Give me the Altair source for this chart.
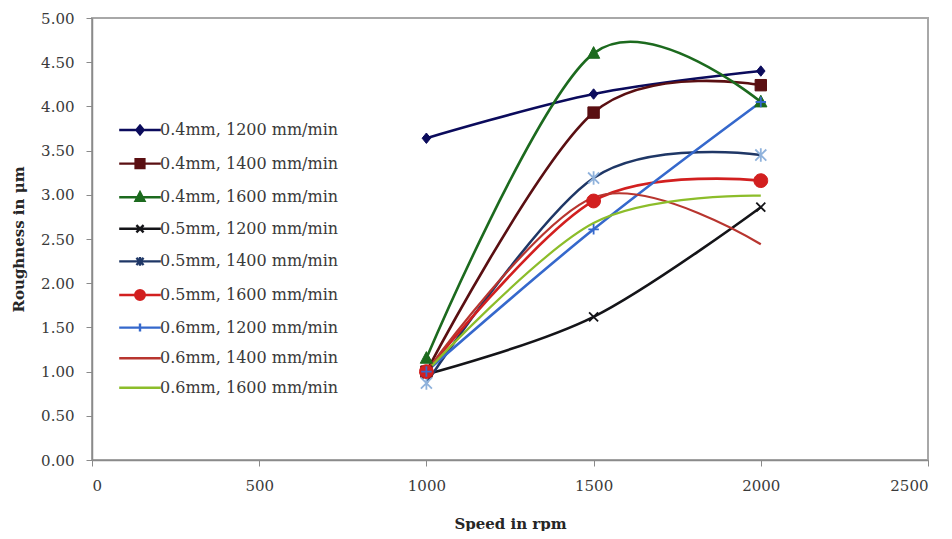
import altair as alt
import pandas as pd

speeds = [1000, 1500, 2000]
names = [
    "0.4mm, 1200 mm/min",
    "0.4mm, 1400 mm/min",
    "0.4mm, 1600 mm/min",
    "0.5mm, 1200 mm/min",
    "0.5mm, 1400 mm/min",
    "0.5mm, 1600 mm/min",
    "0.6mm, 1200 mm/min",
    "0.6mm, 1400 mm/min",
    "0.6mm, 1600 mm/min",
]
s1 = [3.64, 4.14, 4.40]
s2 = [1.00, 3.93, 4.24]
s3 = [1.15, 4.60, 4.05]
s4 = [0.97, 1.62, 2.86]
s5 = [0.87, 3.19, 3.45]
s6 = [1.00, 2.93, 3.16]
s7 = [1.00, 2.61, 4.05]
s8 = [1.00, 2.97, 2.44]
s9 = [1.00, 2.68, 2.99]
series_values = [s1, s2, s3, s4, s5, s6, s7, s8, s9]

line_colors = ["#0b0b5c", "#5a0f12", "#1c6a1e", "#141418", "#1f3766",
               "#d21f1f", "#3568cc", "#b8352f", "#8cbd2a"]
marker_colors = ["#0b0b5c", "#5a0f12", "#1c6a1e", "#141418", "#8fb2dc",
                 "#d21f1f", "#3568cc", "#b8352f", "#8cbd2a"]

rows = []
for name, vals in zip(names, series_values):
    for sp, v in zip(speeds, vals):
        rows.append({"series": name, "speed": sp, "value": v})
df = pd.DataFrame(rows)

# marker shapes (unit paths) for the plot
DIAMOND = "M0,-1.1L0.9,0L0,1.1L-0.9,0Z"
SQUARE = "M-1,-1H1V1H-1Z"
TRIANGLE = "M0,-1.1L1,0.8L-1,0.8Z"
XSHAPE = "M-0.9,-0.9L0.9,0.9M-0.9,0.9L0.9,-0.9"
ASTER = "M-0.9,-0.9L0.9,0.9M-0.9,0.9L0.9,-0.9M0,-1.1V1.1"
CIRCLE = "M-1,0A1,1,0,1,1,1,0A1,1,0,1,1,-1,0Z"
PLUS = "M-1,0H1M0,-1V1"

markers = [
    (DIAMOND, 90, True),
    (SQUARE, 130, True),
    (TRIANGLE, 150, True),
    (XSHAPE, 100, False),
    (ASTER, 150, False),
    (CIRCLE, 190, True),
    (PLUS, 110, False),
    (None, 0, False),
    (None, 0, False),
]

LINE = "M-5.2,0L5.2,0"
legend_paths = [
    LINE + "M0,-1.1L0.9,0L0,1.1L-0.9,0Z",
    LINE + "M-1.1,-1.1H1.1V1.1H-1.1Z",
    LINE + "M0,-1.2L1.1,0.9L-1.1,0.9Z",
    LINE + "M-0.9,-0.9L0.9,0.9M-0.9,0.9L0.9,-0.9",
    LINE + "M-0.9,-0.9L0.9,0.9M-0.9,0.9L0.9,-0.9M0,-1.1V1.1",
    LINE + "M-1.2,0A1.2,1.2,0,1,1,1.2,0A1.2,1.2,0,1,1,-1.2,0Z",
    LINE + "M-1,0H1M0,-1V1",
    LINE,
    LINE,
]

FONT = "DejaVu Serif"

x_enc = alt.X(
    "speed:Q",
    scale=alt.Scale(domain=[0, 2500], nice=False, zero=False),
    axis=alt.Axis(
        values=[0, 500, 1000, 1500, 2000, 2500],
        format="d",
        title="Speed in rpm",
        labelFont=FONT, labelFontSize=15, labelColor="#3a3a3a",
        labelPadding=12, tickSize=6, tickColor="#8a8a8a",
        domainColor="#8a8a8a", domainWidth=1.5,
        titleFont=FONT, titleFontSize=15, titleFontWeight="bold", titleColor="#262626",
        titleBaseline="alphabetic", titleY=68,
        grid=False,
    ),
)
y_enc = alt.Y(
    "value:Q",
    scale=alt.Scale(domain=[0, 5], nice=False),
    axis=alt.Axis(
        values=[0, 0.5, 1, 1.5, 2, 2.5, 3, 3.5, 4, 4.5, 5],
        format=".2f",
        title="Roughness in μm",
        labelFont=FONT, labelFontSize=15, labelColor="#3a3a3a",
        labelPadding=12, tickSize=6, tickColor="#8a8a8a",
        domainColor="#8a8a8a", domainWidth=1.5,
        titleFont=FONT, titleFontSize=15, titleFontWeight="bold", titleColor="#262626",
        titleAngle=-90, titleBaseline="alphabetic", titleAlign="center",
        titleX=-69, titleY=221,
        grid=False,
    ),
)

base = alt.Chart(df)

line_layers = []
for i, (name, lc) in enumerate(zip(names, line_colors)):
    sw = 2.2 if i >= 7 else 2.6
    ln = base.transform_filter(alt.datum.series == name).mark_line(
        interpolate="cardinal", strokeWidth=sw, stroke=lc
    )
    if i == 0:
        ln = ln.encode(x=x_enc, y=y_enc, order=alt.Order("speed:Q"))
    else:
        ln = ln.encode(x="speed:Q", y="value:Q", order=alt.Order("speed:Q"))
    line_layers.append(ln)

point_layers = []
for name, (path, size, filled), mc in zip(names, markers, marker_colors):
    if path is None:
        continue
    if filled:
        m = base.transform_filter(alt.datum.series == name).mark_point(
            shape=path, size=size, filled=True, fill=mc, stroke=mc, strokeWidth=1, opacity=1
        )
    else:
        m = base.transform_filter(alt.datum.series == name).mark_point(
            shape=path, size=size, filled=False, stroke=mc, strokeWidth=1.8, opacity=1
        )
    point_layers.append(m.encode(x="speed:Q", y="value:Q"))

legend_kw = dict(
    title=None,
    orient="none",
    legendX=40,
    legendY=104,
    labelFont=FONT,
    labelFontSize=16,
    labelColor="#3a3a3a",
    labelLimit=400,
    labelOffset=12,
    symbolSize=64,
    symbolStrokeWidth=2.4,
    rowPadding=13.6,
    padding=0,
)

legend_layer = base.transform_filter("false").mark_point(
    size=64, filled=True, opacity=1, strokeWidth=2
).encode(
    x="speed:Q",
    y="value:Q",
    color=alt.Color("series:N", scale=alt.Scale(domain=names, range=marker_colors),
                    legend=alt.Legend(**legend_kw)),
    stroke=alt.Stroke("series:N", scale=alt.Scale(domain=names, range=line_colors),
                      legend=alt.Legend(**legend_kw)),
    shape=alt.Shape("series:N", scale=alt.Scale(domain=names, range=legend_paths),
                    legend=alt.Legend(**legend_kw)),
)

chart = alt.layer(*line_layers, *point_layers, legend_layer).properties(
    width=836,
    height=442,
    autosize=alt.AutoSizeParams(type="none"),
    padding={"left": 84, "top": 10, "right": 16, "bottom": 71},
    background="white",
).configure_view(stroke="#a8a8a8", strokeWidth=2)

chart.save("out.html", embed_options={"renderer": "svg", "actions": False})
